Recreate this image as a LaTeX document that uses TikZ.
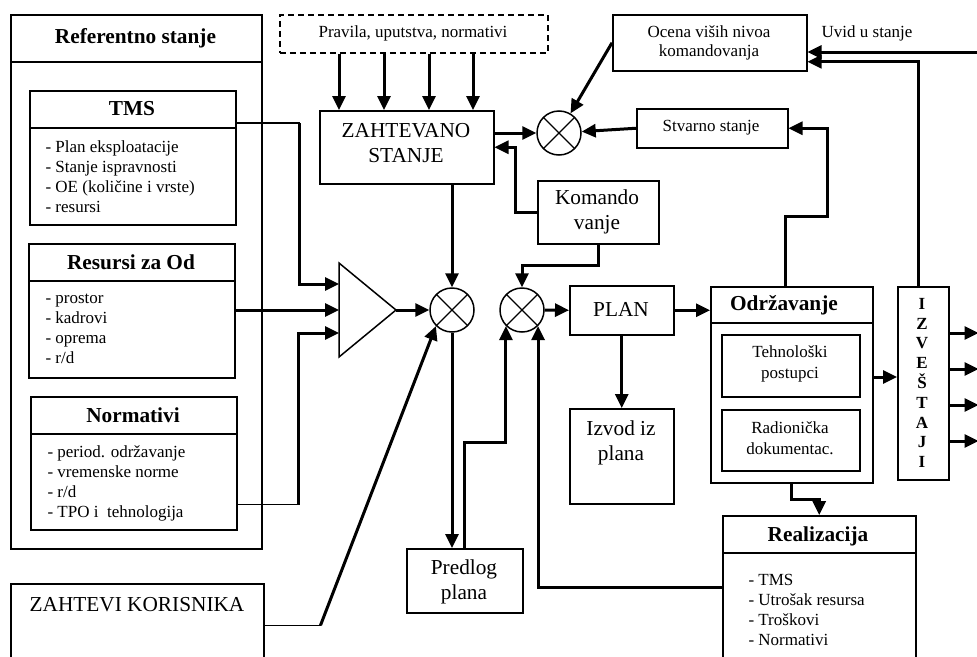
\documentclass[tikz,border=0pt]{standalone}
\usepackage{fontspec}
\setmainfont{Liberation Serif}
\usetikzlibrary{arrows.meta}

\newcommand{\smalltxt}{\fontsize{17}{20}\selectfont}
\newcommand{\bigtxt}{\fontsize{21.3}{25}\selectfont}

\begin{document}
\begin{tikzpicture}[x=1pt,y=-1pt,
  box/.style={draw,line width=1.5pt,inner sep=0pt,anchor=north west},
  sum/.style={draw,circle,line width=1.5pt,minimum size=44pt,inner sep=0pt,
    path picture={\draw[line width=1.3pt] (path picture bounding box.north west)--(path picture bounding box.south east)
      (path picture bounding box.north east)--(path picture bounding box.south west);}},
  arr/.style={line width=3pt,->},
  link/.style={line width=1.5pt},
  lbl/.style={font=\smalltxt,align=center},
  lblbig/.style={font=\bigtxt,align=center},
  hd/.style={font=\bigtxt\bfseries},
  >={Triangle[length=14pt,width=13pt]}]
\useasboundingbox (0,0) rectangle (977,656);

\node[box,minimum width=251pt,minimum height=534pt] (ref) at (10,14) {};
\draw[link] ([yshift=-48pt]ref.north west) -- ([yshift=-48pt]ref.north east);
\node[hd] at (135.5,38) {Referentno stanje};

\node[box,minimum width=206pt,minimum height=134pt] (tms) at (29,90) {};
\draw[link] ([yshift=-38pt]tms.north west) -- ([yshift=-38pt]tms.north east);
\node[hd] at (132,109) {TMS};
\node[lbl,align=left,anchor=west] at (42,177) {- Plan eksploatacije\\- Stanje ispravnosti\\- OE (količine i vrste)\\- resursi};

\node[box,minimum width=206pt,minimum height=134pt] (res) at (28,243) {};
\draw[link] ([yshift=-38pt]res.north west) -- ([yshift=-38pt]res.north east);
\node[hd] at (131,262) {Resursi za Od};
\node[lbl,align=left,anchor=west] at (42,329) {- prostor\\- kadrovi\\- oprema\\- r/d};

\node[box,minimum width=206pt,minimum height=133pt] (nor) at (30,396) {};
\draw[link] ([yshift=-38pt]nor.north west) -- ([yshift=-38pt]nor.north east);
\node[hd] at (133,415) {Normativi};
\node[lbl,align=left,anchor=west] at (44,483) {- period. održavanje\\- vremenske norme\\- r/d\\- TPO i\ \ tehnologija};

\node[box,minimum width=253pt,minimum height=75pt] (zk) at (10,583) {};
\node[lblbig] at (137,605) {ZAHTEVI KORISNIKA};

\node[box,dash pattern=on 6pt off 4pt,minimum width=268pt,minimum height=38pt] (prav) at (279,14) {};
\node[lbl] at (413,33) {Pravila, uputstva, normativi};

\node[box,minimum width=174pt,minimum height=73pt] (zs) at (319,110) {};
\node[lblbig] at (406,143) {ZAHTEVANO\\STANJE};

\node[box,minimum width=194pt,minimum height=56pt] (ocena) at (612,14) {};
\node[lbl,font=\fontsize{17}{19}\selectfont] at (709,43) {Ocena viših nivoa\\komandovanja};

\node[box,minimum width=151pt,minimum height=39pt] (stv) at (636,108) {};
\node[lbl] at (711,128) {Stvarno stanje};

\node[box,minimum width=121pt,minimum height=63pt] (kom) at (537,180) {};
\node[lblbig] at (597,212) {Komando\\vanje};

\node[box,minimum width=104pt,minimum height=49pt] (plan) at (569,285) {};
\node[lblbig] at (621,309) {PLAN};

\node[box,minimum width=104pt,minimum height=95pt] (izvod) at (569,408) {};
\node[lblbig] at (621,443) {Izvod iz\\plana};

\node[box,minimum width=116pt,minimum height=64pt] (pred) at (406,548) {};
\node[lblbig] at (464,582) {Predlog\\plana};

\node[box,minimum width=162pt,minimum height=196pt] (odr) at (710,286) {};
\draw[link] ([yshift=-37pt]odr.north west) -- ([yshift=-37pt]odr.north east);
\node[hd] at (784,305) {Održavanje};
\node[box,minimum width=138pt,minimum height=62pt] (teh) at (721,334) {};
\node[lbl,font=\fontsize{17}{21}\selectfont] at (790,364) {Tehnološki\\postupci};
\node[box,minimum width=138pt,minimum height=61pt] (rad) at (721,409) {};
\node[lbl,font=\fontsize{17}{21}\selectfont] at (790,438) {Radionička\\dokumentac.};

\node[box,minimum width=51pt,minimum height=193pt] (izv) at (897,286) {};
\node[align=center,font=\fontsize{17}{19.8}\selectfont\bfseries] at (922,383) {I\\Z\\V\\E\\Š\\T\\A\\J\\I};

\node[box,minimum width=193pt,minimum height=145pt] (real) at (722,515) {};
\draw[link] ([yshift=-38pt]real.north west) -- ([yshift=-38pt]real.north east);
\node[hd] at (818,536) {Realizacija};
\node[lbl,align=left,anchor=west] at (745,610) {- TMS\\- Utrošak resursa\\- Troškovi\\- Normativi};

\node[sum] (c1) at (452,310) {};
\node[sum] (c2) at (522,310) {};
\node[sum] (c3) at (559,133) {};

\coordinate (amp-top) at (339,263);
\coordinate (amp-out) at (396,310);
\coordinate (amp-bot) at (339,357);
\coordinate (amp-in1) at (339,284);
\coordinate (amp-in2) at (339,310);
\coordinate (amp-in3) at (339,333);
\draw[link] (amp-top) -- (amp-out) -- (amp-bot) -- cycle;

\coordinate (uvid) at (977,52);
\node[lbl] at (867,33) {Uvid u stanje};

\foreach \x in {339,384,429,473}
  \draw[arr] (prav.south -| \x,0) -- (zs.north -| \x,0);
\draw[arr] (zs.east |- c3) -- (c3.west);
\draw[arr] (ocena.west) -- (c3);
\draw[arr] (stv.west) -- (c3);
\draw[arr] (kom.west) -- ++(-22,0) |- (zs.east);
\draw[arr] (kom.south) -- ++(0,21) -| (c2.north);
\draw[arr] (zs.south -| c1) -- (c1.north);

\draw[link] ([yshift=-33pt]tms.north east) -- ++(63,0) coordinate (k1);
\draw[arr] (k1) |- (amp-in1);
\draw[arr] (res.east |- amp-in2) -- (amp-in2);
\draw[link] ([yshift=26pt]nor.south east) -- ++(61,0) coordinate (k3);
\draw[arr] (k3) |- (amp-in3);
\draw[arr] (amp-out) -- (c1.west);
\draw[link] ([yshift=-4pt]zk.east) -- ++(56,0) coordinate (k4);
\draw[arr] (k4) -- (c1.south west);

\draw[arr] (c1.south) -- (pred.north -| c1);
\draw[arr] (pred.north) -- ++(0,-106) -| (c2.south west);
\draw[arr] (real.west |- 0,587) -| (c2.south east);
\draw[arr] (c2.east) -- (plan.west);
\draw[arr] (plan.south) -- (izvod.north);
\draw[arr] (plan.east) -- (odr.west |- plan.east);
\draw[arr] (odr.east |- 0,377) -- (izv.west |- 0,377);
\foreach \y in {333,369,405,441}
  \draw[arr] (izv.east |- 0,\y) -- ++(29,0);
\draw[arr] ([xshift=-6pt]odr.north) -- ++(0,-70) -- ++(42,0) |- (stv.east);
\draw[arr] ([xshift=-5pt]izv.north) |- ([yshift=-19pt]ocena.east);
\draw[arr] (uvid) -- (ocena.east |- uvid);
\draw[arr] (odr.south) -- ++(0,16) -| (real.north);

\end{tikzpicture}
\end{document}
